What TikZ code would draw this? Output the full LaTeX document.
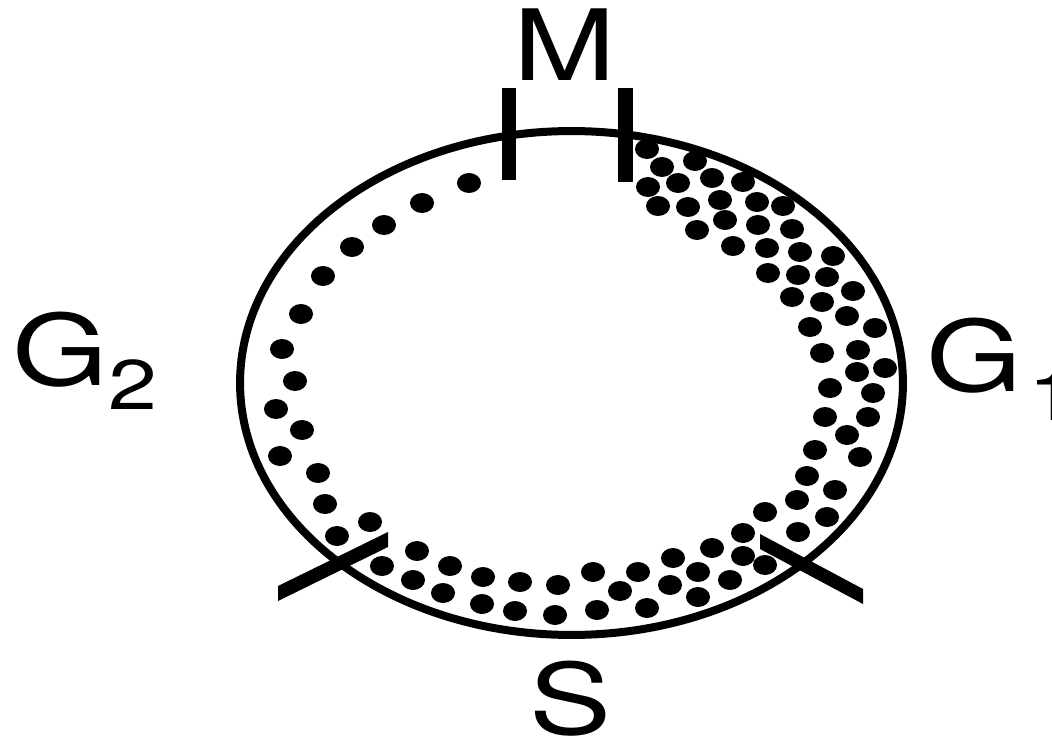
\documentclass[tikz,border=0pt]{standalone}
\usepackage{fontspec}
\setmainfont[FakeStretch=1.25]{TeX Gyre Heros}
\usepackage{tikz}
\usetikzlibrary{shapes,positioning}
\newcommand{\phasefont}{\fontsize{56}{60}\selectfont}
\newcommand{\subfont}{\fontsize{40}{44}\selectfont}

\begin{document}
\begin{tikzpicture}[x=0.02cm, y=-0.02cm,
  ring/.style={draw=black, line width=0.16cm},
  cellpt/.style={fill=black},
  gate/.style={fill=black},
  phase/.style={font=\phasefont, inner sep=0pt}
]
\path[use as bounding box, clip] (0,0) rectangle (1052,747);
% Ring
\draw[ring] (571.5,383) ellipse [x radius=6.63cm, y radius=5.04cm];
% Gates
\fill[gate] (502,88) rectangle (516,180);
\fill[gate] (618,88) rectangle (633,182);
\fill[gate] (278,586) -- (388,532) -- (388,547) -- (278,601) -- cycle;
\fill[gate] (760,534) -- (863,589) -- (863,604) -- (760,549) -- cycle;
% Left arc, one row
\foreach \x/\y in {469/183, 422/203, 384/225, 352/247, 323/276, 301/314,
                   282/349, 295/381, 276/409, 302/430, 280/456, 318/473,
                   325/504, 337/536, 370/522} {
  \fill[cellpt] (\x,\y) ellipse [x radius=0.24cm, y radius=0.2cm];
}
% Bottom
\foreach \x/\y in {417/551, 382/566, 450/566, 413/580, 483/577, 520/582,
                   443/593, 558/585, 593/572, 638/572, 482/604, 515/611,
                   555/615, 620/591, 597/610, 647/608} {
  \fill[cellpt] (\x,\y) ellipse [x radius=0.24cm, y radius=0.2cm];
}
% Lower right
\foreach \x/\y in {673/558, 670/585, 698/572, 698/597, 712/548, 743/533,
                   743/556, 730/580, 765/512, 765/565, 797/500, 798/532,
                   807/476, 827/517, 835/490, 815/450, 847/435, 860/457,
                   825/417, 868/417} {
  \fill[cellpt] (\x,\y) ellipse [x radius=0.24cm, y radius=0.2cm];
}
% Upper right
\foreach \x/\y in {647/149, 662/167, 695/161, 648/187, 678/183, 712/178,
                   743/182, 658/206, 688/207, 720/200, 757/202, 783/206,
                   697/230, 725/220, 758/225, 792/229, 733/246, 767/248,
                   800/252, 833/256, 768/273, 798/275, 827/277, 853/291,
                   792/297, 822/302, 847/316, 810/327, 875/328, 822/353,
                   858/350, 857/372, 885/368, 830/388, 873/393} {
  \fill[cellpt] (\x,\y) ellipse [x radius=0.24cm, y radius=0.2cm];
}
% Labels
\node[phase, anchor=base] (m) at (565,80) {M};
\node[phase, anchor=base] (s) at (571,734) {S};
\node[phase, anchor=base west] (gtwo) at (12,385) {G\raisebox{-0.5cm}{\subfont 2}};
\node[phase, anchor=base west] (gone) at (926,391) {G\hspace{0.12cm}\raisebox{-0.6cm}{\subfont 1}};
\end{tikzpicture}
\end{document}
